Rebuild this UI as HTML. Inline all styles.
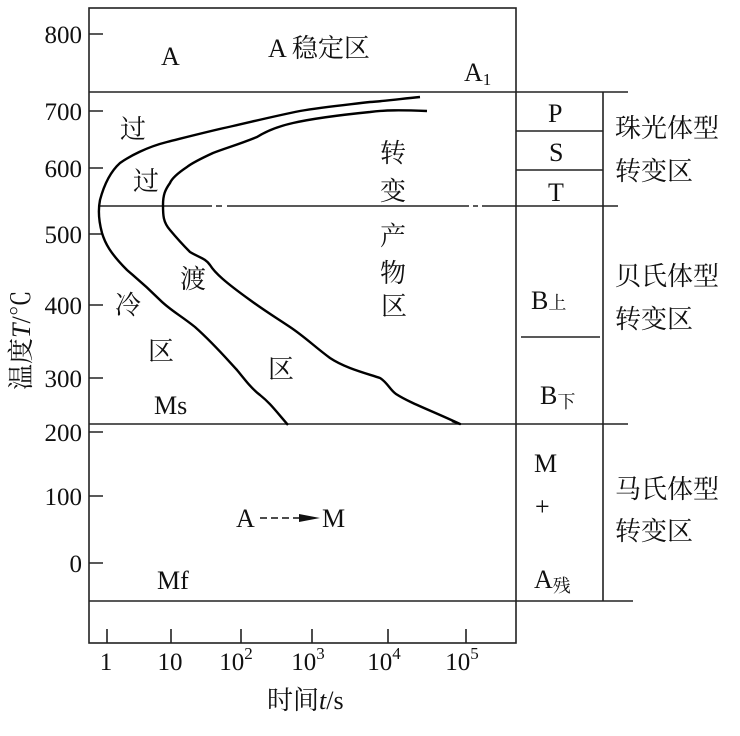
<!DOCTYPE html>
<html><head><meta charset="utf-8"><style>
html,body{margin:0;padding:0;background:#fff;}
svg text{font-family:"Liberation Serif","Noto Serif CJK SC",serif;fill:#111;}
.c{font-family:"Liberation Serif","Noto Serif CJK SC","Noto Sans CJK SC",serif;}
</style></head><body>
<svg width="740" height="731" viewBox="0 0 740 731" xmlns="http://www.w3.org/2000/svg">
<g stroke="#222" stroke-width="1.6" fill="none">
<rect x="89" y="8" width="427" height="635"/>
<line x1="89" y1="92" x2="628" y2="92"/>
<line x1="603" y1="92" x2="603" y2="601"/>
<line x1="516" y1="131" x2="603" y2="131"/>
<line x1="516" y1="170" x2="603" y2="170"/>
<line x1="521" y1="337" x2="600" y2="337"/>
<line x1="89" y1="424" x2="628" y2="424"/>
<line x1="89" y1="601" x2="633" y2="601"/>
<path d="M99 206H212 M216 206H222 M227 206H469 M473 206H478 M482 206H618"/>
<path d="M89 34h14M89 111h14M89 168h14M89 234h14M89 305h14M89 378h14M89 432h14M89 496h14M89 563h14"/>
<path d="M107 643v-14M171 643v-14M241 643v-14M312 643v-14M388 643v-14M466 643v-14"/>
</g>
<g stroke="#000" stroke-width="2.4" fill="none" stroke-linejoin="round">
<path d="M420 97 C400 99,385 101,370 102 C345 105,323 107,300 111 C275 116,255 121,233 126 C210 131,187 137,167 142 C147 147,130 156,120 163 C110 172,104 185,100 200 C98 210,99 222,102 233 C105 243,110 253,127 270 C135 277,143 283,160 300 C170 310,180 315,195 327 C213 343,225 357,237 370 C245 380,252 389,260 395 C270 403,275 410,288 425"/>
<path d="M427 111 C400 110,385 110,370 112 C340 115,315 118,293 123 C275 127,265 132,257 137 C240 144,226 148,213 153 C200 159,192 163,187 167 C178 173,172 178,170 183 C165 190,163 195,163 205 C163 215,163 222,170 230 C175 236,180 242,190 252 C200 258,205 258,210 265 C215 273,225 282,250 300 C265 311,275 317,290 327 C305 337,315 347,330 358 C345 368,365 373,380 378 C387 382,390 390,396 394 C410 403,430 410,460 424 L452 421"/>
</g>
<g font-size="25" text-anchor="end">
<text x="82" y="43">800</text><text x="82" y="120">700</text><text x="82" y="177">600</text>
<text x="82" y="243">500</text><text x="82" y="314">400</text><text x="82" y="387">300</text>
<text x="82" y="441">200</text><text x="82" y="505">100</text><text x="82" y="572">0</text>
</g>
<g font-size="25" text-anchor="middle">
<text x="106" y="670">1</text><text x="170" y="670">10</text>
<text x="236" y="670">10<tspan font-size="17" dy="-11">2</tspan></text>
<text x="308" y="670">10<tspan font-size="17" dy="-11">3</tspan></text>
<text x="384" y="670">10<tspan font-size="17" dy="-11">4</tspan></text>
<text x="462" y="670">10<tspan font-size="17" dy="-11">5</tspan></text>
</g>
<g font-size="26" class="c">
<text x="161" y="65">A</text>
<text x="268" y="57">A 稳定区</text>
<text x="464" y="81">A<tspan font-size="17" dy="4">1</tspan></text>
<text x="120" y="138">过</text><text x="133" y="190">过</text>
<text x="180" y="288">渡</text><text x="115" y="314">冷</text>
<text x="148" y="360">区</text><text x="268" y="378">区</text>
<text x="380" y="162">转</text><text x="380" y="200">变</text>
<text x="380" y="245">产</text><text x="380" y="282">物</text><text x="381" y="315">区</text>
<text x="154" y="414">Ms</text><text x="157" y="589">Mf</text>
<text x="236" y="527">A</text>
<text x="322" y="527">M</text>
<text x="548" y="122">P</text><text x="549" y="161">S</text><text x="548" y="201">T</text>
<text x="531" y="309">B<tspan font-size="18">上</tspan></text>
<text x="540" y="404">B<tspan font-size="18" dy="4">下</tspan></text>
<text x="534" y="472">M</text><text x="535" y="515">+</text>
<text x="534" y="588">A<tspan font-size="18" dy="4">残</tspan></text>
<text x="615" y="137">珠光体型</text><text x="615" y="180">转变区</text>
<text x="615" y="285">贝氏体型</text><text x="615" y="328">转变区</text>
<text x="615" y="498">马氏体型</text><text x="615" y="540">转变区</text>
<text x="267" y="709">时间<tspan font-style="italic">t</tspan>/s</text>
<text transform="translate(30,390) rotate(-90)">温度<tspan font-style="italic">T</tspan>/℃</text>
</g>
<path d="M260 518h7M271 518h7M282 518h7M293 518h6" stroke="#111" stroke-width="1.5"/>
<path d="M299 514L320 518L299 522Z" fill="#111"/>
</svg>
</body></html>
